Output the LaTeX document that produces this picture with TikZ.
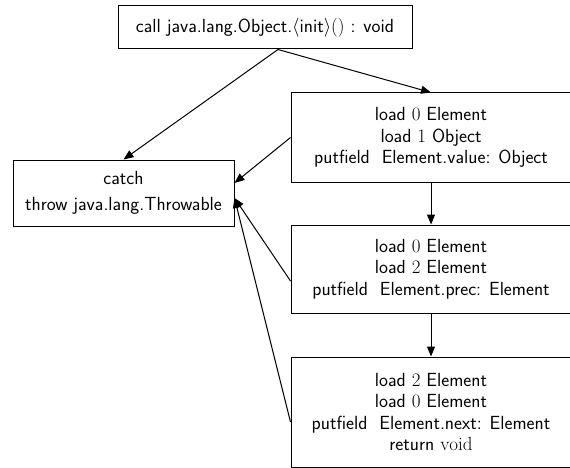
\RequirePackage{fix-cm}
\documentclass[tikz,border=0pt]{standalone}
\usepackage{fontspec}
\usetikzlibrary{arrows.meta}

\begin{document}
\begin{tikzpicture}[x=1pt, y=-1pt, font=\fontsize{19}{21.5}\selectfont\sffamily,
  blk/.style={draw, line width=1pt, align=center, inner sep=2pt},
  ar/.style={-{Triangle[length=10pt, width=8pt]}, line width=1pt}]

\useasboundingbox (0,0) rectangle (570,468);

\node[blk, minimum width=294pt, minimum height=43pt] at (265,27.5) (top) {call java.lang.Object.$\langle$init$\rangle()$ : void};
\node[blk, minimum width=221pt, minimum height=66pt] at (123.5,193) (catch) {catch\\[4pt] throw java.lang.Throwable};

\node[blk, minimum width=280pt, minimum height=89pt] at (431,137.5) (b1) {load $0$ Element\\ load $1$ Object\hspace*{28pt}\\ putfield\ \ Element.value: Object};
\node[blk, minimum width=280pt, minimum height=88pt] at (431,269) (b2) {load $0$ Element\\ load $2$ Element\\ putfield\ \ Element.prec: Element};
\node[blk, minimum width=280pt, minimum height=110pt] at (431,412) (b3) {load $2$ Element\\ load $0$ Element\\ putfield\ \ Element.next: Element\\ return $\mathrm{void}$};

\draw[ar] ([xshift=13pt]top.south) -- (catch.north);
\draw[ar] ([xshift=13pt]top.south) -- (b1.north);
\draw[ar] (b1.west) -- ([yshift=10pt]catch.east);
\draw[ar] ([yshift=-12pt]b2.west) -- ([yshift=-5pt]catch.east);
\draw[ar] ([yshift=-10pt]b3.west) -- ([yshift=-5pt]catch.east);
\draw[ar] (b1.south) -- (b2.north);
\draw[ar] (b2.south) -- (b3.north);
\end{tikzpicture}
\end{document}
